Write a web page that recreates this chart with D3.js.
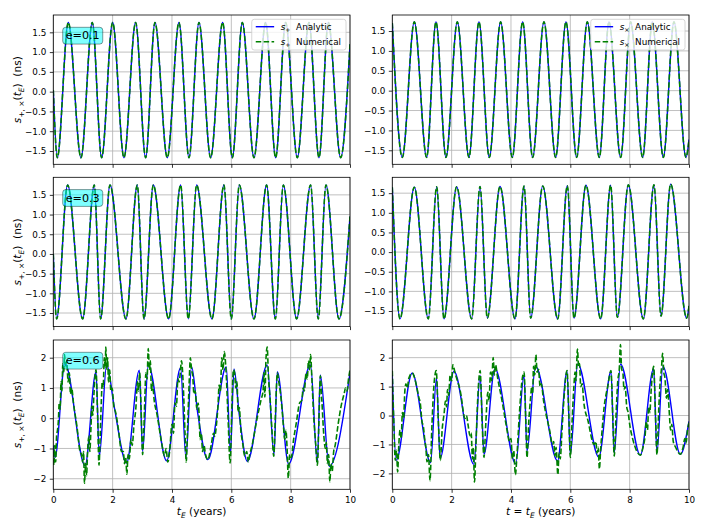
<!DOCTYPE html>
<html lang="en">
<head>
<meta charset="UTF-8">
<title>Timing residuals s+ / sx, analytic vs numerical</title>
<script src="https://cdn.jsdelivr.net/npm/d3@7"></script>
<style>
  body { margin: 0; background: #fff; }
  svg text { font-family: "DejaVu Sans", sans-serif; white-space: pre; }
</style>
</head>
<body>
<svg id="fig" width="704" height="529"></svg>
<script>
// ---- values: [t_E (years), s (ns)] at extrema / turning points ----
var xTicks = [0, 2, 4, 6, 8, 10];
var yTicksSmall = [-1.5, -1.0, -0.5, 0.0, 0.5, 1.0, 1.5];
var yTicksLarge = [-2, -1, 0, 1, 2];
var eccLabels = ["e=0.1", "e=0.3", "e=0.6"];
var legendNames = ["Analytic", "Numerical"];

// e = 0.1
var plusE01 = [[0,0.04],[0.135,-1.67],[0.506,1.75],[0.933,-1.67],[1.314,1.75],[1.629,-1.67],[2.0,1.75],[2.382,-1.67],
  [2.775,1.75],[3.112,-1.67],[3.427,1.75],[3.842,-1.67],[4.236,1.75],[4.573,-1.67],[4.91,1.75],[5.303,-1.67],
  [5.708,1.75],[6.034,-1.67],[6.371,1.75],[6.764,-1.67],[7.157,1.75],[7.494,-1.67],[7.831,1.75],[8.224,-1.67],
  [8.617,1.75],[8.955,-1.67],[9.27,1.75],[9.685,-1.67],[10,1.2]];
var crossE01 = [[0,1.70],[0.337,-1.68],[0.742,1.73],[1.157,-1.68],[1.472,1.73],[1.809,-1.68],[2.191,1.73],[2.584,-1.68],
  [2.921,1.73],[3.269,-1.68],[3.651,1.73],[4.045,-1.68],[4.393,1.73],[4.73,-1.68],[5.112,1.73],[5.505,-1.68],
  [5.853,1.73],[6.213,-1.68],[6.572,1.73],[6.977,-1.68],[7.303,1.73],[7.696,-1.68],[8.033,1.73],[8.438,-1.68],
  [8.763,1.73],[9.134,-1.68],[9.494,1.73],[9.898,-1.68],[10,-1.23]];

// e = 0.3
var plusE03 = [[0,0.0],[0.112,-1.65],[0.483,1.75],[0.989,-1.65],[1.382,1.75],[1.595,-1.65],[1.91,1.75],[2.449,-1.65],
  [2.831,1.75],[3.056,-1.65],[3.371,1.75],[3.887,-1.65],[4.292,1.75],[4.55,-1.65],[4.831,1.75],[5.348,-1.65],
  [5.752,1.75],[6.0,-1.65],[6.269,1.75],[6.764,-1.65],[7.19,1.75],[7.483,-1.65],[7.752,1.75],[8.2,-1.65],
  [8.673,1.75],[8.93,-1.65],[9.19,1.75],[9.628,-1.65],[10,0.95]];
var crossE03 = [[0,1.65],[0.259,-1.70],[0.742,1.65],[1.214,-1.70],[1.495,1.66],[1.742,-1.70],[2.169,1.66],[2.675,-1.70],
  [2.956,1.67],[3.203,-1.68],[3.63,1.67],[4.136,-1.70],[4.44,1.68],[4.664,-1.68],[5.07,1.68],[5.574,-1.70],
  [5.9,1.69],[6.124,-1.68],[6.527,1.70],[7.023,-1.70],[7.359,1.70],[7.585,-1.66],[7.955,1.71],[8.461,-1.70],
  [8.82,1.71],[9.057,-1.63],[9.382,1.73],[9.922,-1.68],[10,-1.37]];

// e = 0.6
var plusE06 = [[0,-0.9],[0.06,-1.3],[0.39,1.82],[1.07,-1.57],[1.44,1.54],[1.55,-1.26],[1.80,1.78],[2.05,0.4],[2.47,-1.48],
  [2.90,1.59],[3.01,-1.1],[3.20,1.76],[3.82,-1.41],[4.29,1.67],[4.47,-1.3],[4.66,1.70],[4.87,0.15],[5.21,-1.37],[5.83,1.70],
  [5.97,-1.15],[6.09,1.63],[6.27,0.1],[6.54,-1.43],[7.21,1.76],[7.44,-1.2],[7.55,1.54],[7.93,-1.52],[8.67,1.76],[8.90,-1.48],
  [9.00,1.43],[9.30,-1.59],[10.0,1.5]];
var plusE06Num = [[0.00,-1.1],[0.02,-1.55],[0.05,-0.9],[0.08,-1.45],[0.11,-0.6],[0.14,-0.4],[0.17,-0.1],[0.20,0.5],
  [0.23,0.3],[0.26,1.2],[0.29,0.9],[0.32,1.8],[0.35,1.5],[0.38,2.1],[0.41,1.7],[0.45,1.9],[0.50,1.2],[0.54,1.5],
  [0.58,0.8],[0.62,1.0],[0.68,0.5],[0.80,-0.3],[0.90,-1.1],[0.95,-1.2],[0.99,-1.45],[1.02,-1.1],[1.05,-2.15],
  [1.09,-1.5],[1.12,-1.9],[1.16,-1.0],[1.20,-0.6],[1.23,-1.1],[1.27,-0.3],[1.30,0.4],[1.33,0.1],[1.37,0.8],
  [1.40,1.3],[1.44,1.6],[1.49,0.2],[1.54,-1.55],[1.58,-0.6],[1.62,0.6],[1.65,1.2],[1.68,1.0],[1.72,2.0],[1.75,1.7],
  [1.77,2.35],[1.80,1.6],[1.83,2.0],[1.86,1.2],[1.90,1.6],[1.94,0.9],[1.98,1.0],[2.04,0.4],[2.10,0.2],[2.20,-0.4],
  [2.30,-1.1],[2.36,-1.1],[2.40,-1.5],[2.44,-1.3],[2.48,-1.85],[2.52,-1.2],[2.56,-1.35],[2.62,-0.7],[2.66,-0.9],
  [2.72,-0.2],[2.78,0.3],[2.84,1.2],[2.87,0.9],[2.91,1.5],[2.96,0.3],[3.01,-1.2],[3.05,-0.4],[3.09,0.8],[3.12,1.5],
  [3.16,1.3],[3.20,2.3],[3.24,1.6],[3.27,1.9],[3.31,0.9],[3.34,1.2],[3.40,0.6],[3.50,0.1],[3.65,-0.8],[3.75,-1.25],
  [3.80,-1.0],[3.86,-1.45],[3.92,-1.1],[4.00,-0.2],[4.05,-0.5],[4.10,0.5],[4.15,0.4],[4.20,1.3],[4.24,1.2],
  [4.28,1.5],[4.32,1.9],[4.38,1.1],[4.44,-0.5],[4.48,-1.45],[4.53,-0.2],[4.58,1.2],[4.62,2.0],[4.66,1.6],[4.70,1.4],
  [4.74,0.8],[4.78,0.9],[4.84,0.3],[4.88,0.5],[4.91,0.2],[4.95,-0.7],[4.99,-0.5],[5.03,-1.1],[5.08,-0.9],
  [5.13,-1.2],[5.21,-1.37],[5.32,-0.9],[5.40,-0.5],[5.44,-0.6],[5.50,-0.2],[5.55,0.4],[5.59,1.1],[5.63,0.9],
  [5.68,2.0],[5.72,1.6],[5.76,2.2],[5.82,1.6],[5.89,0.0],[5.96,-1.48],[6.02,0.4],[6.07,1.6],[6.11,1.5],[6.15,1.0],
  [6.19,1.2],[6.23,0.2],[6.27,0.35],[6.32,-0.4],[6.38,-0.8],[6.45,-1.25],[6.52,-1.1],[6.57,-1.45],[6.62,-1.2],
  [6.70,-0.9],[6.85,-0.1],[7.00,0.6],[7.07,0.9],[7.10,1.5],[7.13,0.7],[7.17,2.0],[7.21,2.35],[7.25,1.4],[7.31,0.6],
  [7.37,-0.4],[7.43,-1.26],[7.49,0.2],[7.55,1.5],[7.60,1.2],[7.66,0.8],[7.71,0.3],[7.76,-0.3],[7.80,-0.7],
  [7.84,-0.4],[7.88,-1.0],[7.92,-1.98],[7.97,-1.2],[8.02,-1.3],[8.10,-0.7],[8.20,-0.1],[8.30,0.5],[8.38,0.6],
  [8.42,1.0],[8.46,0.9],[8.52,1.5],[8.56,1.3],[8.60,1.9],[8.64,1.6],[8.67,2.1],[8.72,1.2],[8.78,0.0],[8.84,-0.8],
  [8.90,-1.55],[8.95,-0.2],[9.00,1.4],[9.05,0.6],[9.12,-0.6],[9.17,-1.0],[9.20,-0.8],[9.24,-1.5],[9.28,-1.2],
  [9.32,-2.1],[9.36,-1.5],[9.40,-1.75],[9.45,-1.1],[9.50,-0.9],[9.60,-0.2],[9.70,0.4],[9.80,0.8],[9.85,1.0],
  [9.90,0.9],[9.95,1.3],[10.0,1.6]];
var crossE06 = [[0,1.4],[0.13,-1.55],[0.67,1.47],[1.29,-1.63],[1.49,1.30],[1.61,-1.48],[2.08,1.53],[2.75,-1.69],
  [2.96,1.39],[3.09,-1.34],[3.46,1.62],[4.16,-1.67],[4.44,1.39],[4.54,-1.23],[4.83,1.70],[5.57,-1.57],[5.89,1.53],
  [6.00,-1.34],[6.25,1.78],[6.96,-1.44],[7.37,1.53],[7.48,-1.29],[7.69,1.78],[8.36,-1.37],[8.81,1.62],[8.92,-1.29],
  [9.12,1.70],[9.71,-1.34],[10,-0.2]];
var crossE06Num = [[0.00,1.55],[0.05,-0.2],[0.10,-1.55],[0.14,-1.2],[0.18,-1.95],[0.22,-1.0],[0.26,-0.5],[0.30,-0.8],
  [0.34,0.1],[0.38,-0.1],[0.42,0.8],[0.46,1.1],[0.50,0.95],[0.56,1.3],[0.67,1.47],[0.80,1.1],[0.90,0.6],[0.94,0.45],
  [1.00,-0.2],[1.05,-0.4],[1.09,-0.8],[1.13,-1.1],[1.17,-1.6],[1.22,-1.35],[1.27,-2.25],[1.33,-0.5],[1.40,1.0],
  [1.48,1.55],[1.56,-0.4],[1.62,-1.55],[1.68,-0.5],[1.75,0.1],[1.79,0.5],[1.83,0.3],[1.86,0.9],[1.90,0.7],
  [1.95,1.4],[2.00,1.2],[2.04,1.75],[2.12,1.45],[2.30,0.8],[2.45,-0.1],[2.50,0.0],[2.55,-0.3],[2.62,-0.7],
  [2.66,-0.6],[2.70,-1.5],[2.73,-1.1],[2.77,-2.3],[2.82,-1.0],[2.88,0.6],[2.96,1.55],[3.03,-0.3],[3.09,-1.45],
  [3.15,-0.3],[3.22,0.8],[3.26,0.5],[3.31,1.5],[3.35,1.2],[3.40,2.0],[3.44,1.4],[3.48,1.75],[3.55,1.3],[3.70,0.5],
  [3.85,-0.4],[3.95,-0.9],[4.00,-0.8],[4.05,-1.5],[4.09,-1.2],[4.15,-2.05],[4.20,-1.4],[4.28,0.0],[4.36,1.1],
  [4.44,1.5],[4.50,-0.2],[4.54,-1.45],[4.60,-0.2],[4.66,0.6],[4.70,1.0],[4.73,0.75],[4.76,1.7],[4.80,1.4],
  [4.84,2.1],[4.88,1.5],[4.93,1.6],[4.98,1.0],[5.02,1.1],[5.10,0.5],[5.30,-0.5],[5.40,-1.0],[5.44,-0.9],
  [5.48,-1.4],[5.52,-1.1],[5.58,-2.05],[5.62,-1.3],[5.66,-1.5],[5.72,-0.5],[5.78,0.5],[5.89,1.55],[5.95,0.0],
  [6.00,-1.45],[6.06,-0.2],[6.12,1.0],[6.16,1.5],[6.19,1.2],[6.24,2.3],[6.28,1.7],[6.31,1.8],[6.35,1.0],[6.40,1.1],
  [6.45,0.5],[6.60,-0.2],[6.80,-1.0],[6.86,-0.9],[6.90,-1.3],[6.94,-1.1],[6.98,-1.85],[7.02,-1.2],[7.08,-0.4],
  [7.14,0.3],[7.20,0.7],[7.26,1.0],[7.37,1.55],[7.43,0.0],[7.48,-1.4],[7.54,0.0],[7.60,1.2],[7.65,1.6],[7.69,2.45],
  [7.73,1.6],[7.77,1.5],[7.81,0.9],[7.85,1.0],[7.90,0.3],[7.95,0.1],[8.00,-0.3],[8.10,-0.8],[8.25,-1.25],
  [8.36,-1.37],[8.45,-1.1],[8.52,-0.7],[8.56,-0.2],[8.60,-0.5],[8.64,0.3],[8.68,0.1],[8.72,0.8],[8.81,1.7],
  [8.87,0.0],[8.92,-1.35],[8.98,0.2],[9.03,1.2],[9.07,1.6],[9.11,2.15],[9.15,1.5],[9.19,1.3],[9.24,0.6],[9.28,0.9],
  [9.33,0.2],[9.38,-0.5],[9.42,-0.3],[9.47,-0.9],[9.55,-1.1],[9.71,-1.34],[9.80,-1.1],[9.86,-0.8],[9.90,-0.95],
  [9.95,-0.5],[10.0,-0.25]];

// ---- layout ----
var colX = [53.3, 392.3], colW = 296.7;
var rowY = [15, 177.3, 340], rowH = 149.3;
var BLUE = "#0000ff", GREEN = "#008000", DASH = "5.5,2.4";

var panels = [
  {row: 0, col: 0, analytic: plusE01,  numerical: plusE01,     ylim: [-1.837, 1.938], yticks: yTicksSmall},
  {row: 0, col: 1, analytic: crossE01, numerical: crossE01,    ylim: [-1.853, 1.903], yticks: yTicksSmall},
  {row: 1, col: 0, analytic: plusE03,  numerical: plusE03,     ylim: [-1.845, 1.946], yticks: yTicksSmall},
  {row: 1, col: 1, analytic: crossE03, numerical: crossE03,    ylim: [-1.897, 1.904], yticks: yTicksSmall},
  {row: 2, col: 0, analytic: plusE06,  numerical: plusE06Num,  ylim: [-2.35, 2.585],  yticks: yTicksLarge},
  {row: 2, col: 1, analytic: crossE06, numerical: crossE06Num, ylim: [-2.55, 2.61],   yticks: yTicksLarge}
];

var svg = d3.select("#fig");
var defs = svg.append("defs");

function styleAxis(sel) {
  sel.select(".domain").remove();
  sel.attr("font-family", "DejaVu Sans").attr("font-size", 8.8);
  sel.selectAll(".tick line").attr("stroke", "#000").attr("stroke-width", 0.8);
  sel.selectAll(".tick text").attr("fill", "#000");
}

panels.forEach(function(p, i) {
  var left = colX[p.col], top = rowY[p.row];
  var x = d3.scaleLinear().domain([0, 10]).range([left, left + colW]);
  var y = d3.scaleLinear().domain(p.ylim).range([top + rowH, top]);
  var g = svg.append("g");

  defs.append("clipPath").attr("id", "clip" + i).append("rect")
    .attr("x", left).attr("y", top).attr("width", colW).attr("height", rowH);

  // grid
  g.append("g").selectAll("line").data(xTicks).join("line")
    .attr("x1", d => x(d)).attr("x2", d => x(d))
    .attr("y1", top).attr("y2", top + rowH)
    .attr("stroke", "#b0b0b0").attr("stroke-width", 0.8);
  g.append("g").selectAll("line").data(p.yticks).join("line")
    .attr("x1", left).attr("x2", left + colW)
    .attr("y1", d => y(d)).attr("y2", d => y(d))
    .attr("stroke", "#b0b0b0").attr("stroke-width", 0.8);

  // curves
  var line = d3.line().x(d => x(d[0])).y(d => y(d[1])).curve(d3.curveMonotoneX);
  var lines = g.append("g").attr("clip-path", "url(#clip" + i + ")");
  lines.append("path").attr("d", line(p.analytic))
    .attr("fill", "none").attr("stroke", BLUE).attr("stroke-width", 1.4);
  lines.append("path").attr("d", line(p.numerical))
    .attr("fill", "none").attr("stroke", GREEN).attr("stroke-width", 1.6)
    .attr("stroke-dasharray", DASH);

  // axes
  var yFmt = p.row === 2 ? d3.format("d") : d3.format(".1f");
  g.append("g").attr("transform", "translate(" + left + ",0)")
    .call(d3.axisLeft(y).tickValues(p.yticks).tickSize(3.5).tickPadding(3.5).tickFormat(yFmt))
    .call(styleAxis);
  g.append("g").attr("transform", "translate(0," + (top + rowH) + ")")
    .call(d3.axisBottom(x).tickValues(xTicks).tickSize(3.5).tickPadding(3.5)
      .tickFormat(p.row === 2 ? d3.format("d") : function() { return ""; }))
    .call(styleAxis);

  // spines
  g.append("rect").attr("x", left).attr("y", top).attr("width", colW).attr("height", rowH)
    .attr("fill", "none").attr("stroke", "#000").attr("stroke-width", 0.8);
});

// eccentricity tags (left column)
eccLabels.forEach(function(lab, r) {
  var tx = colX[0] + 12.4, ty = rowY[r] + 24.4;
  var tag = svg.append("g");
  var rect = tag.append("rect");
  var t = tag.append("text").attr("x", tx).attr("y", ty).attr("font-size", 11.2).text(lab);
  var w = t.node().getComputedTextLength();
  rect.attr("x", tx - 3).attr("y", rowY[r] + 12.3).attr("width", w + 6).attr("height", 16.8)
    .attr("rx", 3).attr("fill", "cyan").attr("fill-opacity", 0.5)
    .attr("stroke", "#000").attr("stroke-opacity", 0.5).attr("stroke-width", 0.8);
});

// legends (top row)
[0, 1].forEach(function(col) {
  var pol = col === 0 ? "+" : "\u00d7";
  var right = colX[col] + colW - 4, top = rowY[0] + 4.3;
  var lg = svg.append("g");
  var box = lg.append("rect");
  var inner = lg.append("g");
  var widths = [];
  legendNames.forEach(function(name, k) {
    var cy = top + 7.4 + k * 15;
    inner.append("line").attr("x1", 4).attr("x2", 22.4).attr("y1", cy).attr("y2", cy)
      .attr("stroke", k === 0 ? BLUE : GREEN).attr("stroke-width", k === 0 ? 1.4 : 1.6)
      .attr("stroke-dasharray", k === 0 ? null : DASH);
    var t = inner.append("text").attr("x", 29).attr("y", cy + 3.2).attr("font-size", 8.8);
    t.append("tspan").attr("font-style", "italic").text("s");
    t.append("tspan").attr("font-size", 6.2).attr("dy", 2).text(pol);
    t.append("tspan").attr("dy", -2).text("  " + name);
    widths.push(t.node().getComputedTextLength());
  });
  var bw = 29 + d3.max(widths) + 5;
  var bx = right - bw;
  inner.attr("transform", "translate(" + bx + ",0)");
  box.attr("x", bx).attr("y", top).attr("width", bw).attr("height", 30.7).attr("rx", 2.5)
    .attr("fill", "#fff").attr("fill-opacity", 0.8)
    .attr("stroke", "#cccccc").attr("stroke-width", 0.8);
});

// y labels (left column)
rowY.forEach(function(top) {
  var yl = svg.append("text")
    .attr("transform", "translate(21," + (top + rowH / 2) + ") rotate(-90)")
    .attr("text-anchor", "middle").attr("font-size", 10.6);
  yl.append("tspan").attr("font-style", "italic").text("s");
  yl.append("tspan").attr("font-size", 7.4).attr("dy", 2.6).text("+, \u00d7");
  yl.append("tspan").attr("dy", -2.6).text("(");
  yl.append("tspan").attr("font-style", "italic").text("t");
  yl.append("tspan").attr("font-style", "italic").attr("font-size", 7.4).attr("dy", 2.6).text("E");
  yl.append("tspan").attr("dy", -2.6).text(")  (ns)");
});

// x labels (bottom row)
[0, 1].forEach(function(col) {
  var xl = svg.append("text").attr("x", colX[col] + colW / 2).attr("y", 515)
    .attr("text-anchor", "middle").attr("font-size", 10.6);
  if (col === 1) {
    xl.append("tspan").attr("font-style", "italic").text("t");
    xl.append("tspan").text(" = ");
  }
  xl.append("tspan").attr("font-style", "italic").text("t");
  xl.append("tspan").attr("font-style", "italic").attr("font-size", 7.4).attr("dy", 2.6).text("E");
  xl.append("tspan").attr("dy", -2.6).text(" (years)");
});
</script>
</body>
</html>
